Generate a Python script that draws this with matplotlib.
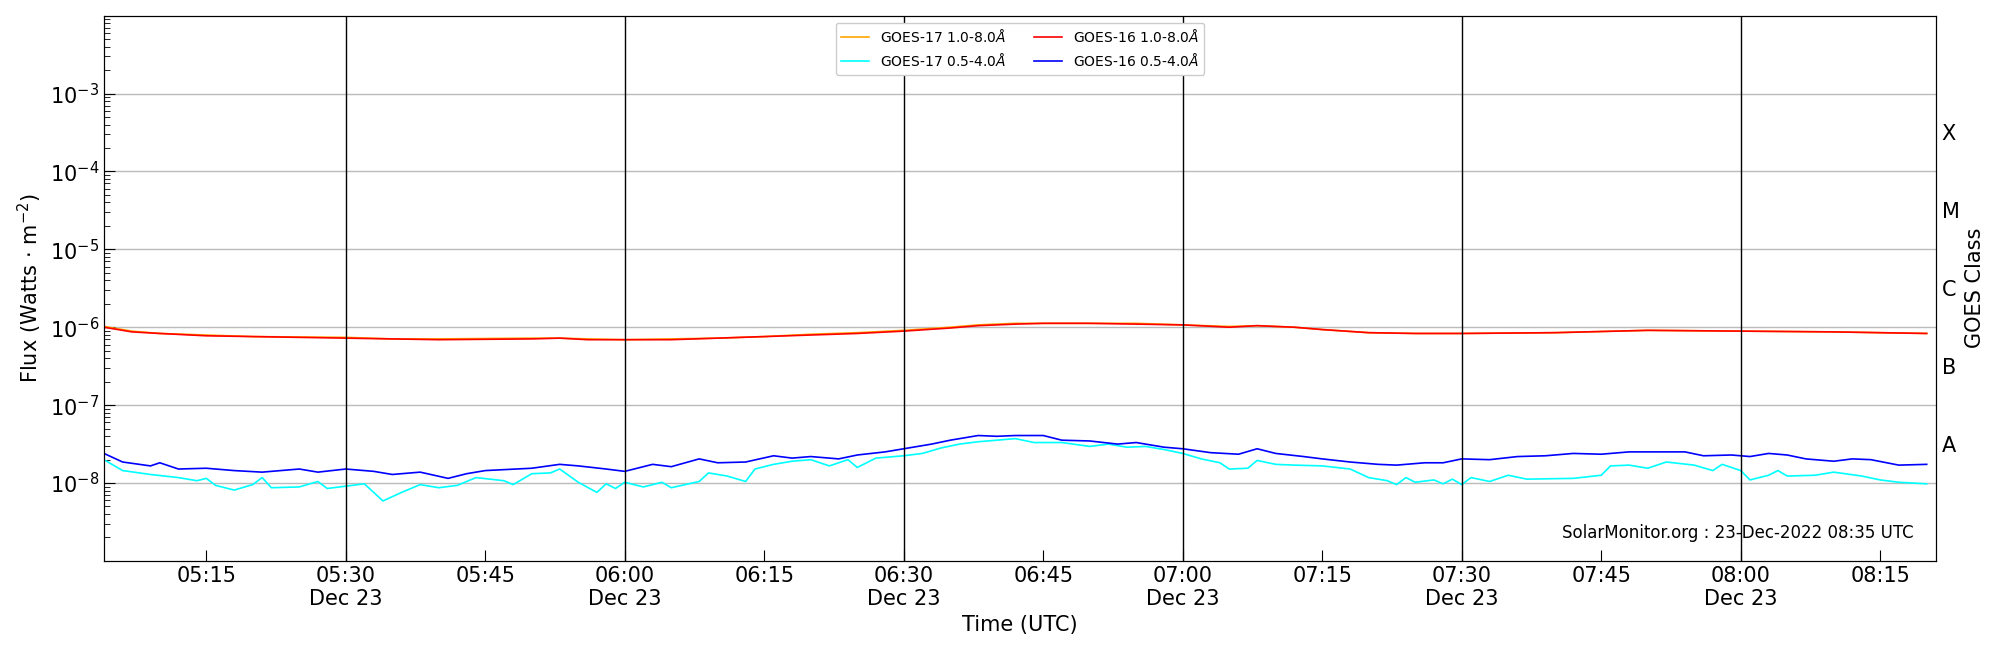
import matplotlib
matplotlib.use("Agg")
import matplotlib.pyplot as plt
import matplotlib.dates as mdates
import numpy as np
import pandas as pd
from matplotlib.ticker import LogLocator, NullFormatter, FixedLocator

DAY = "2022-12-23 "

# GOES-16 1.0-8.0 A (log10 flux)
long_times = ["05:04", "05:07", "05:10", "05:15", "05:20", "05:30", "05:35", "05:40", "05:50",
              "05:53", "05:56", "06:00", "06:05", "06:10", "06:15", "06:20", "06:25", "06:30",
              "06:35", "06:38", "06:42", "06:45", "06:50", "06:55", "07:00", "07:05", "07:08",
              "07:12", "07:15", "07:20", "07:25", "07:30", "07:40", "07:50", "08:00", "08:10",
              "08:20"]
long16 = [-6.00, -6.06, -6.08, -6.11, -6.12, -6.14, -6.15, -6.16, -6.15,
          -6.14, -6.16, -6.16, -6.16, -6.14, -6.12, -6.10, -6.08, -6.05,
          -6.01, -5.98, -5.96, -5.95, -5.95, -5.96, -5.97, -6.00, -5.98,
          -6.00, -6.03, -6.07, -6.08, -6.08, -6.07, -6.04, -6.05, -6.06,
          -6.08]
long17 = [-5.99, -6.05, -6.08, -6.10, -6.12, -6.13, -6.15, -6.15, -6.14,
          -6.14, -6.15, -6.16, -6.15, -6.14, -6.12, -6.09, -6.07, -6.04,
          -6.00, -5.97, -5.95, -5.95, -5.95, -5.95, -5.97, -5.99, -5.98,
          -6.00, -6.03, -6.07, -6.08, -6.08, -6.07, -6.04, -6.05, -6.06,
          -6.08]

# GOES-16 0.5-4.0 A
short16_times = ["05:04", "05:06", "05:09", "05:10", "05:12", "05:15", "05:18", "05:21", "05:25",
                 "05:27", "05:30", "05:33", "05:35", "05:38", "05:41", "05:43", "05:45", "05:50",
                 "05:53", "05:55", "05:58", "06:00", "06:03", "06:05", "06:08", "06:10", "06:13",
                 "06:16", "06:18", "06:20", "06:23", "06:25", "06:28", "06:30", "06:33", "06:35",
                 "06:38", "06:40", "06:42", "06:45", "06:47", "06:50", "06:53", "06:55", "06:58",
                 "07:00", "07:03", "07:06", "07:08", "07:10", "07:13", "07:15", "07:18", "07:21",
                 "07:23", "07:26", "07:28", "07:30", "07:33", "07:36", "07:39", "07:42", "07:45",
                 "07:48", "07:51", "07:54", "07:56", "07:59", "08:01", "08:03", "08:05", "08:07",
                 "08:10", "08:12", "08:14", "08:17", "08:20"]
short16 = [-7.62, -7.73, -7.78, -7.74, -7.82, -7.81, -7.84, -7.86, -7.82,
           -7.86, -7.82, -7.85, -7.89, -7.86, -7.94, -7.88, -7.84, -7.81,
           -7.76, -7.78, -7.82, -7.85, -7.76, -7.79, -7.69, -7.74, -7.73,
           -7.65, -7.68, -7.66, -7.69, -7.64, -7.60, -7.56, -7.50, -7.45,
           -7.39, -7.40, -7.39, -7.39, -7.45, -7.46, -7.50, -7.48, -7.54,
           -7.56, -7.61, -7.63, -7.56, -7.62, -7.66, -7.69, -7.73, -7.76,
           -7.77, -7.74, -7.74, -7.69, -7.70, -7.66, -7.65, -7.62, -7.63,
           -7.60, -7.60, -7.60, -7.65, -7.64, -7.66, -7.62, -7.64, -7.69,
           -7.72, -7.69, -7.70, -7.77, -7.76]

# GOES-17 0.5-4.0 A
short17_times = ["05:04", "05:06", "05:09", "05:12", "05:14", "05:15", "05:16", "05:18", "05:20",
                 "05:21", "05:22", "05:25", "05:27", "05:28", "05:30", "05:32", "05:34", "05:36",
                 "05:38", "05:40", "05:42", "05:44", "05:47", "05:48", "05:50", "05:52", "05:53",
                 "05:55", "05:57", "05:58", "05:59", "06:00", "06:02", "06:04", "06:05", "06:08",
                 "06:09", "06:11", "06:13", "06:14", "06:16", "06:18", "06:20", "06:22", "06:24",
                 "06:25", "06:27", "06:30", "06:32", "06:34", "06:36", "06:38", "06:40", "06:42",
                 "06:44", "06:47", "06:50", "06:52", "06:54", "06:56", "06:58", "07:00", "07:02",
                 "07:04", "07:05", "07:07", "07:08", "07:10", "07:12", "07:15", "07:18", "07:20",
                 "07:22", "07:23", "07:24", "07:25", "07:27", "07:28", "07:29", "07:30", "07:31",
                 "07:33", "07:35", "07:37", "07:42", "07:45", "07:46", "07:48", "07:50", "07:52",
                 "07:55", "07:57", "07:58", "08:00", "08:01", "08:03", "08:04", "08:05", "08:08",
                 "08:10", "08:13", "08:15", "08:17", "08:20"]
short17 = [-7.70, -7.84, -7.89, -7.93, -7.97, -7.94, -8.03, -8.09, -8.02,
           -7.93, -8.06, -8.05, -7.98, -8.07, -8.04, -8.01, -8.23, -8.12,
           -8.02, -8.06, -8.03, -7.93, -7.97, -8.02, -7.88, -7.87, -7.82,
           -7.99, -8.12, -8.01, -8.07, -7.99, -8.05, -7.99, -8.06, -7.98,
           -7.87, -7.91, -7.98, -7.82, -7.76, -7.72, -7.70, -7.78, -7.70,
           -7.80, -7.68, -7.65, -7.62, -7.55, -7.50, -7.47, -7.45, -7.43,
           -7.48, -7.48, -7.53, -7.50, -7.54, -7.53, -7.57, -7.62, -7.69,
           -7.74, -7.82, -7.81, -7.71, -7.76, -7.77, -7.78, -7.82, -7.93,
           -7.97, -8.02, -7.93, -7.99, -7.96, -8.01, -7.95, -8.02, -7.93,
           -7.98, -7.90, -7.95, -7.94, -7.90, -7.78, -7.77, -7.81, -7.73,
           -7.77, -7.84, -7.76, -7.84, -7.96, -7.90, -7.84, -7.91, -7.90,
           -7.86, -7.91, -7.96, -7.99, -8.01]

goes_classes = ["A", "B", "C", "M", "X"]
class_pos = [10 ** -7.5, 10 ** -6.5, 10 ** -5.5, 10 ** -4.5, 10 ** -3.5]


def to_dt(times):
    return pd.to_datetime([DAY + t for t in times])


fig = plt.figure(figsize=(20, 6.5), dpi=100)
ax = fig.add_axes([0.052, 0.137, 0.916, 0.839])

ax.plot(to_dt(long_times), 10 ** np.array(long17), color="orange", lw=1.2, label=r"GOES-17 1.0-8.0$\AA$")
ax.plot(to_dt(short17_times), 10 ** np.array(short17), color="cyan", lw=1.2, label=r"GOES-17 0.5-4.0$\AA$")
ax.plot(to_dt(long_times), 10 ** np.array(long16), color="red", lw=1.2, label=r"GOES-16 1.0-8.0$\AA$")
ax.plot(to_dt(short16_times), 10 ** np.array(short16), color="blue", lw=1.2, label=r"GOES-16 0.5-4.0$\AA$")

ax.set_yscale("log")
ax.set_ylim(1e-9, 1e-2)
ax.set_yticks([1e-8, 1e-7, 1e-6, 1e-5, 1e-4, 1e-3])
ax.yaxis.set_minor_locator(LogLocator(base=10, subs=np.arange(2, 10)))
ax.yaxis.set_minor_formatter(NullFormatter())
ax.set_xlim(pd.Timestamp(DAY + "05:04"), pd.Timestamp(DAY + "08:21"))

ax.xaxis.set_major_locator(mdates.MinuteLocator(byminute=[0, 15, 30, 45]))


def fmt(x, pos):
    d = mdates.num2date(x)
    s = d.strftime("%H:%M")
    if d.minute in (0, 30):
        s += "\nDec 23"
    return s


ax.xaxis.set_major_formatter(plt.FuncFormatter(fmt))
ax.tick_params(axis="both", which="both", direction="in", labelsize=15)
ax.tick_params(axis="both", which="major", length=8)
ax.tick_params(axis="y", which="minor", length=4)
ax.tick_params(axis="y", right=True)

ax.grid(True, axis="y", which="major", color="#bbbbbb", lw=1)
for t in ["05:30", "06:00", "06:30", "07:00", "07:30", "08:00"]:
    ax.axvline(pd.Timestamp(DAY + t), color="black", lw=1)

ax.set_xlabel("Time (UTC)", fontsize=15)
ax.set_ylabel(r"Flux (Watts $\cdot$ m$^{-2}$)", fontsize=15)

ax2 = ax.twinx()
ax2.set_yscale("log")
ax2.set_ylim(ax.get_ylim())
ax2.yaxis.set_major_locator(FixedLocator(class_pos))
ax2.set_yticklabels(goes_classes)
ax2.yaxis.set_minor_formatter(NullFormatter())
ax2.tick_params(axis="y", which="both", length=0, labelsize=15, pad=4)
ax2.set_ylabel("GOES Class", fontsize=15)

ax.legend(loc="upper center", ncol=2, fontsize=10, framealpha=1, columnspacing=2)
ax.text(0.988, 0.035, "SolarMonitor.org : 23-Dec-2022 08:35 UTC", transform=ax.transAxes,
        ha="right", va="bottom", fontsize=12)

fig.savefig("out.png", dpi=100)
